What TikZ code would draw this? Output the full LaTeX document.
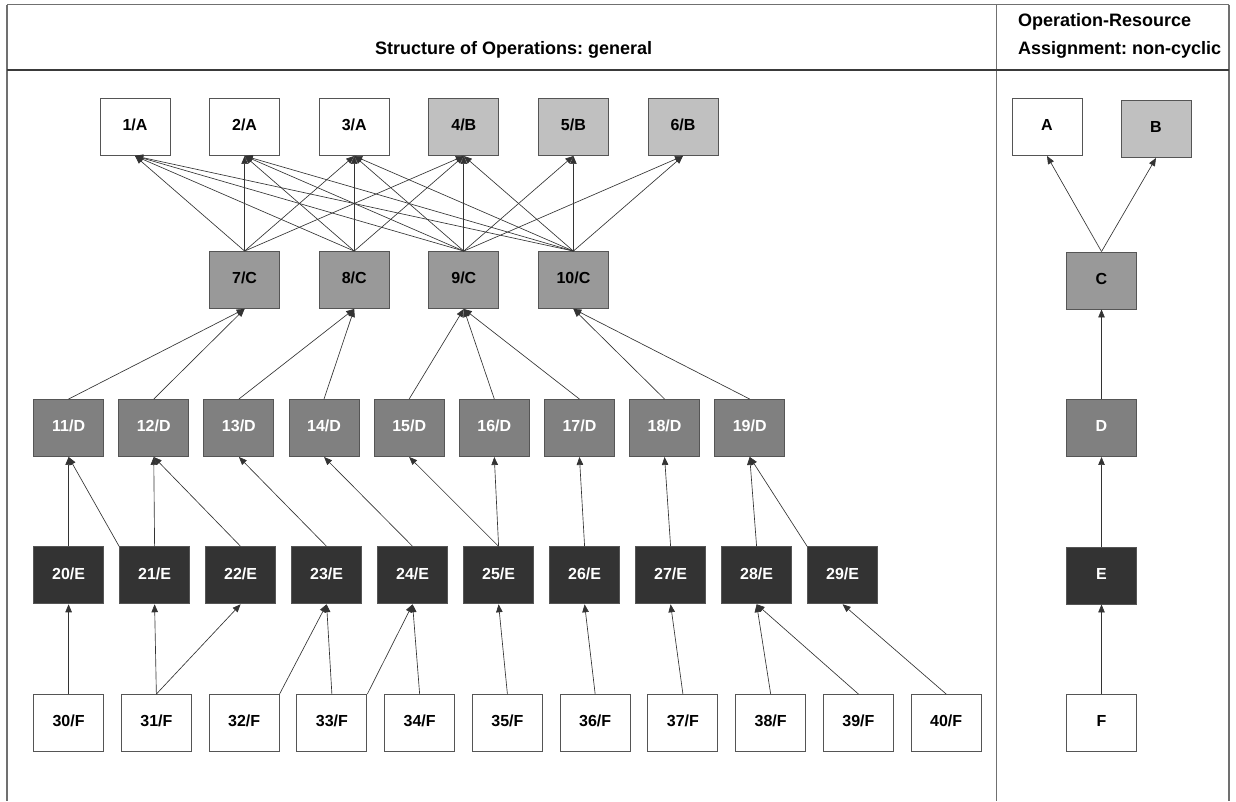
\documentclass[tikz,border=0pt]{standalone}
\usepackage{fontspec}
\setmainfont{Liberation Sans}
\usetikzlibrary{arrows.meta}
\frenchspacing
\definecolor{frameline}{HTML}{707070}
\definecolor{headline}{HTML}{3A3A3A}
\definecolor{boxline}{HTML}{555555}
\definecolor{fillB}{HTML}{C0C0C0}
\definecolor{fillC}{HTML}{999999}
\definecolor{fillD}{HTML}{808080}
\definecolor{fillE}{HTML}{333333}
\definecolor{edgecol}{HTML}{333333}
\begin{document}
\begin{tikzpicture}[x=1pt,y=-1pt,
  op/.style={draw=boxline, line width=0.9pt, minimum width=70pt, minimum height=57pt,
    inner sep=0pt, font=\bfseries\fontsize{16}{18}\selectfont,
    text height=11.5pt, text depth=4pt},
  opA/.style={op, fill=white},
  opB/.style={op, fill=fillB},
  opC/.style={op, fill=fillC},
  opD/.style={op, fill=fillD, text=white},
  opE/.style={op, fill=fillE, text=white},
  opF/.style={op, fill=white},
  arc/.style={-{Triangle[length=8pt,width=6.5pt]}, draw=edgecol, line width=0.65pt},
  frame/.style={draw=frameline, line width=1.6pt},
  hdr/.style={anchor=base west, inner sep=0pt, font=\bfseries\fontsize{18}{20}\selectfont}]
\useasboundingbox (0,0) rectangle (1236,801);

% table frame
\coordinate (tl) at (7,4.5);
\coordinate (tr) at (1229,4.5);
\coordinate (bl) at (7,801);
\coordinate (br) at (1229,801);
\coordinate (dtop) at (996.5,4.5);
\coordinate (dbot) at (996.5,801);
\coordinate (hl) at (7,70);
\coordinate (hr) at (1229,70);
\draw[frame] (tl) -- (tr);
\draw[frame] (tl) -- (bl);
\draw[frame] (tr) -- (br);
\draw[frame] (dtop) -- (dbot);
\draw[draw=headline, line width=1.6pt] (hl) -- (hr);

% headers
\node[hdr] (title) at (375,54) {Structure of Operations: general};
\node[hdr] (hdrA) at (1018,26) {Operation-Resource};
\node[hdr] (hdrB) at (1018,54) {Assignment: non-cyclic};

% operations, level by level
\foreach \n/\x/\s/\r in {1/135/opA/A, 2/244.6/opA/A, 3/354.2/opA/A,
                         4/463.8/opB/B, 5/573.4/opB/B, 6/683/opB/B}
  \node[\s] (n\n) at (\x,127) {\n/\r};
\foreach \n/\x in {7/244.6, 8/354.2, 9/463.8, 10/573.4}
  \node[opC] (n\n) at (\x,280) {\n/C};
\foreach \n in {11,...,19}{
  \pgfmathsetmacro{\xx}{68.6+85.14*(\n-11)}
  \node[opD] (n\n) at (\xx,428) {\n/D};}
\foreach \n in {20,...,29}{
  \pgfmathsetmacro{\xx}{68.6+86*(\n-20)}
  \node[opE] (n\n) at (\xx,575.3) {\n/E};}
\foreach \n in {30,...,40}{
  \pgfmathsetmacro{\xx}{68.6+87.76*(\n-30)}
  \node[opF] (n\n) at (\xx,723) {\n/F};}

% resources
\node[opA] (rA) at (1047,127) {A};
\node[opB] (rB) at (1156,129) {B};
\node[opC] (rC) at (1101.5,280.5) {C};
\node[opD] (rD) at (1101.5,428) {D};
\node[opE] (rE) at (1101.5,575.5) {E};
\node[opF] (rF) at (1101.5,723) {F};

% C -> A/B
\foreach \c/\t in {7/1,7/2,7/3,7/4, 8/1,8/2,8/3,8/4,
                   9/1,9/2,9/3,9/4,9/5,9/6, 10/1,10/2,10/3,10/4,10/5,10/6}
  \draw[arc] (n\c.north) -- (n\t.south);
% D -> C
\foreach \c/\t in {11/7,12/7,13/8,14/8,15/9,16/9,17/9,18/10,19/10}
  \draw[arc] (n\c.north) -- (n\t.south);
% E -> D
\foreach \c/\t in {20/11,21/12,22/12,23/13,24/14,25/15,25/16,26/17,27/18,28/19}
  \draw[arc] (n\c.north) -- (n\t.south);
\draw[arc] (n21.north west) -- (n11.south);
\draw[arc] (n29.north west) -- (n19.south);
% F -> E
\foreach \c/\t in {30/20,31/21,31/22,33/23,34/24,35/25,36/26,37/27,38/28,39/28,40/29}
  \draw[arc] (n\c.north) -- (n\t.south);
\draw[arc] (n32.north east) -- (n23.south);
\draw[arc] (n33.north east) -- (n24.south);

% resource chain
\draw[arc] (rC.north) -- (rA.south);
\draw[arc] (rC.north) -- (rB.south);
\draw[arc] (rD.north) -- (rC.south);
\draw[arc] (rE.north) -- (rD.south);
\draw[arc] (rF.north) -- (rE.south);
\end{tikzpicture}
\end{document}
